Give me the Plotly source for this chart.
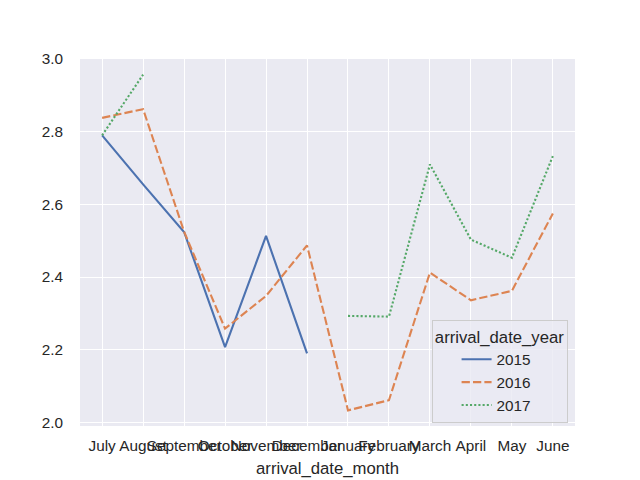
import plotly.graph_objects as go

months = ["July", "August", "September", "October", "November", "December",
          "January", "February", "March", "April", "May", "June"]
years = ["2015", "2016", "2017"]
values_2015 = [2.790, 2.655, 2.524, 2.207, 2.513, 2.190, None, None, None, None, None, None]
values_2016 = [2.838, 2.862, 2.525, 2.258, 2.348, 2.487, 2.033, 2.061, 2.412, 2.336, 2.362, 2.575]
values_2017 = [2.790, 2.957, None, None, None, None, 2.293, 2.291, 2.710, 2.503, 2.453, 2.733]
y_ticks = [2.0, 2.2, 2.4, 2.6, 2.8, 3.0]

series = [values_2015, values_2016, values_2017]
colors = ["#4c72b0", "#dd8452", "#55a868"]
dashes = ["solid", "8.3px,3.1px", "2.1px,2.1px"]

fig = go.Figure()
for name, vals, c, d in zip(years, series, colors, dashes):
    fig.add_trace(go.Scatter(
        x=months, y=vals, name=name, mode="lines",
        line=dict(color=c, width=2.1, dash=d),
        connectgaps=False,
    ))

font_family = "Liberation Sans, Arial, sans-serif"
fig.update_layout(
    width=632, height=472,
    margin=dict(l=72, r=65, t=51, b=54),
    paper_bgcolor="white",
    plot_bgcolor="#eaeaf2",
    font=dict(family=font_family, color="#262626", size=15.3),
    showlegend=True,
    legend=dict(
        title=dict(text="arrival_date_year", font=dict(size=16.7), side="top center"),
        x=0.985, y=0.008, xanchor="right", yanchor="bottom",
        bgcolor="rgba(234,234,242,0.8)",
        bordercolor="#cccccc", borderwidth=1,
        font=dict(size=15.3),
        itemwidth=30,
        indentation=24,
        tracegroupgap=0,
    ),
)
fig.update_xaxes(
    type="category",
    categoryorder="array", categoryarray=months,
    range=[-0.54, 11.54],
    showgrid=True, gridcolor="white", gridwidth=1.2,
    zeroline=False, showline=False,
    tickangle=0,
    ticks="outside", ticklen=6, tickcolor="rgba(0,0,0,0)",
    tickfont=dict(size=15.3),
    title=dict(text="arrival_date_month", font=dict(size=16.7), standoff=8),
    automargin=False,
)
fig.update_yaxes(
    range=[1.99, 3.0],
    tickvals=y_ticks,
    ticktext=[f"{v:.1f}" for v in y_ticks],
    showgrid=True, gridcolor="white", gridwidth=1.2,
    zeroline=False, showline=False,
    ticks="outside", ticklen=13, tickcolor="rgba(0,0,0,0)",
    tickfont=dict(size=15.3),
    automargin=False,
)

fig.write_html("out.html")
